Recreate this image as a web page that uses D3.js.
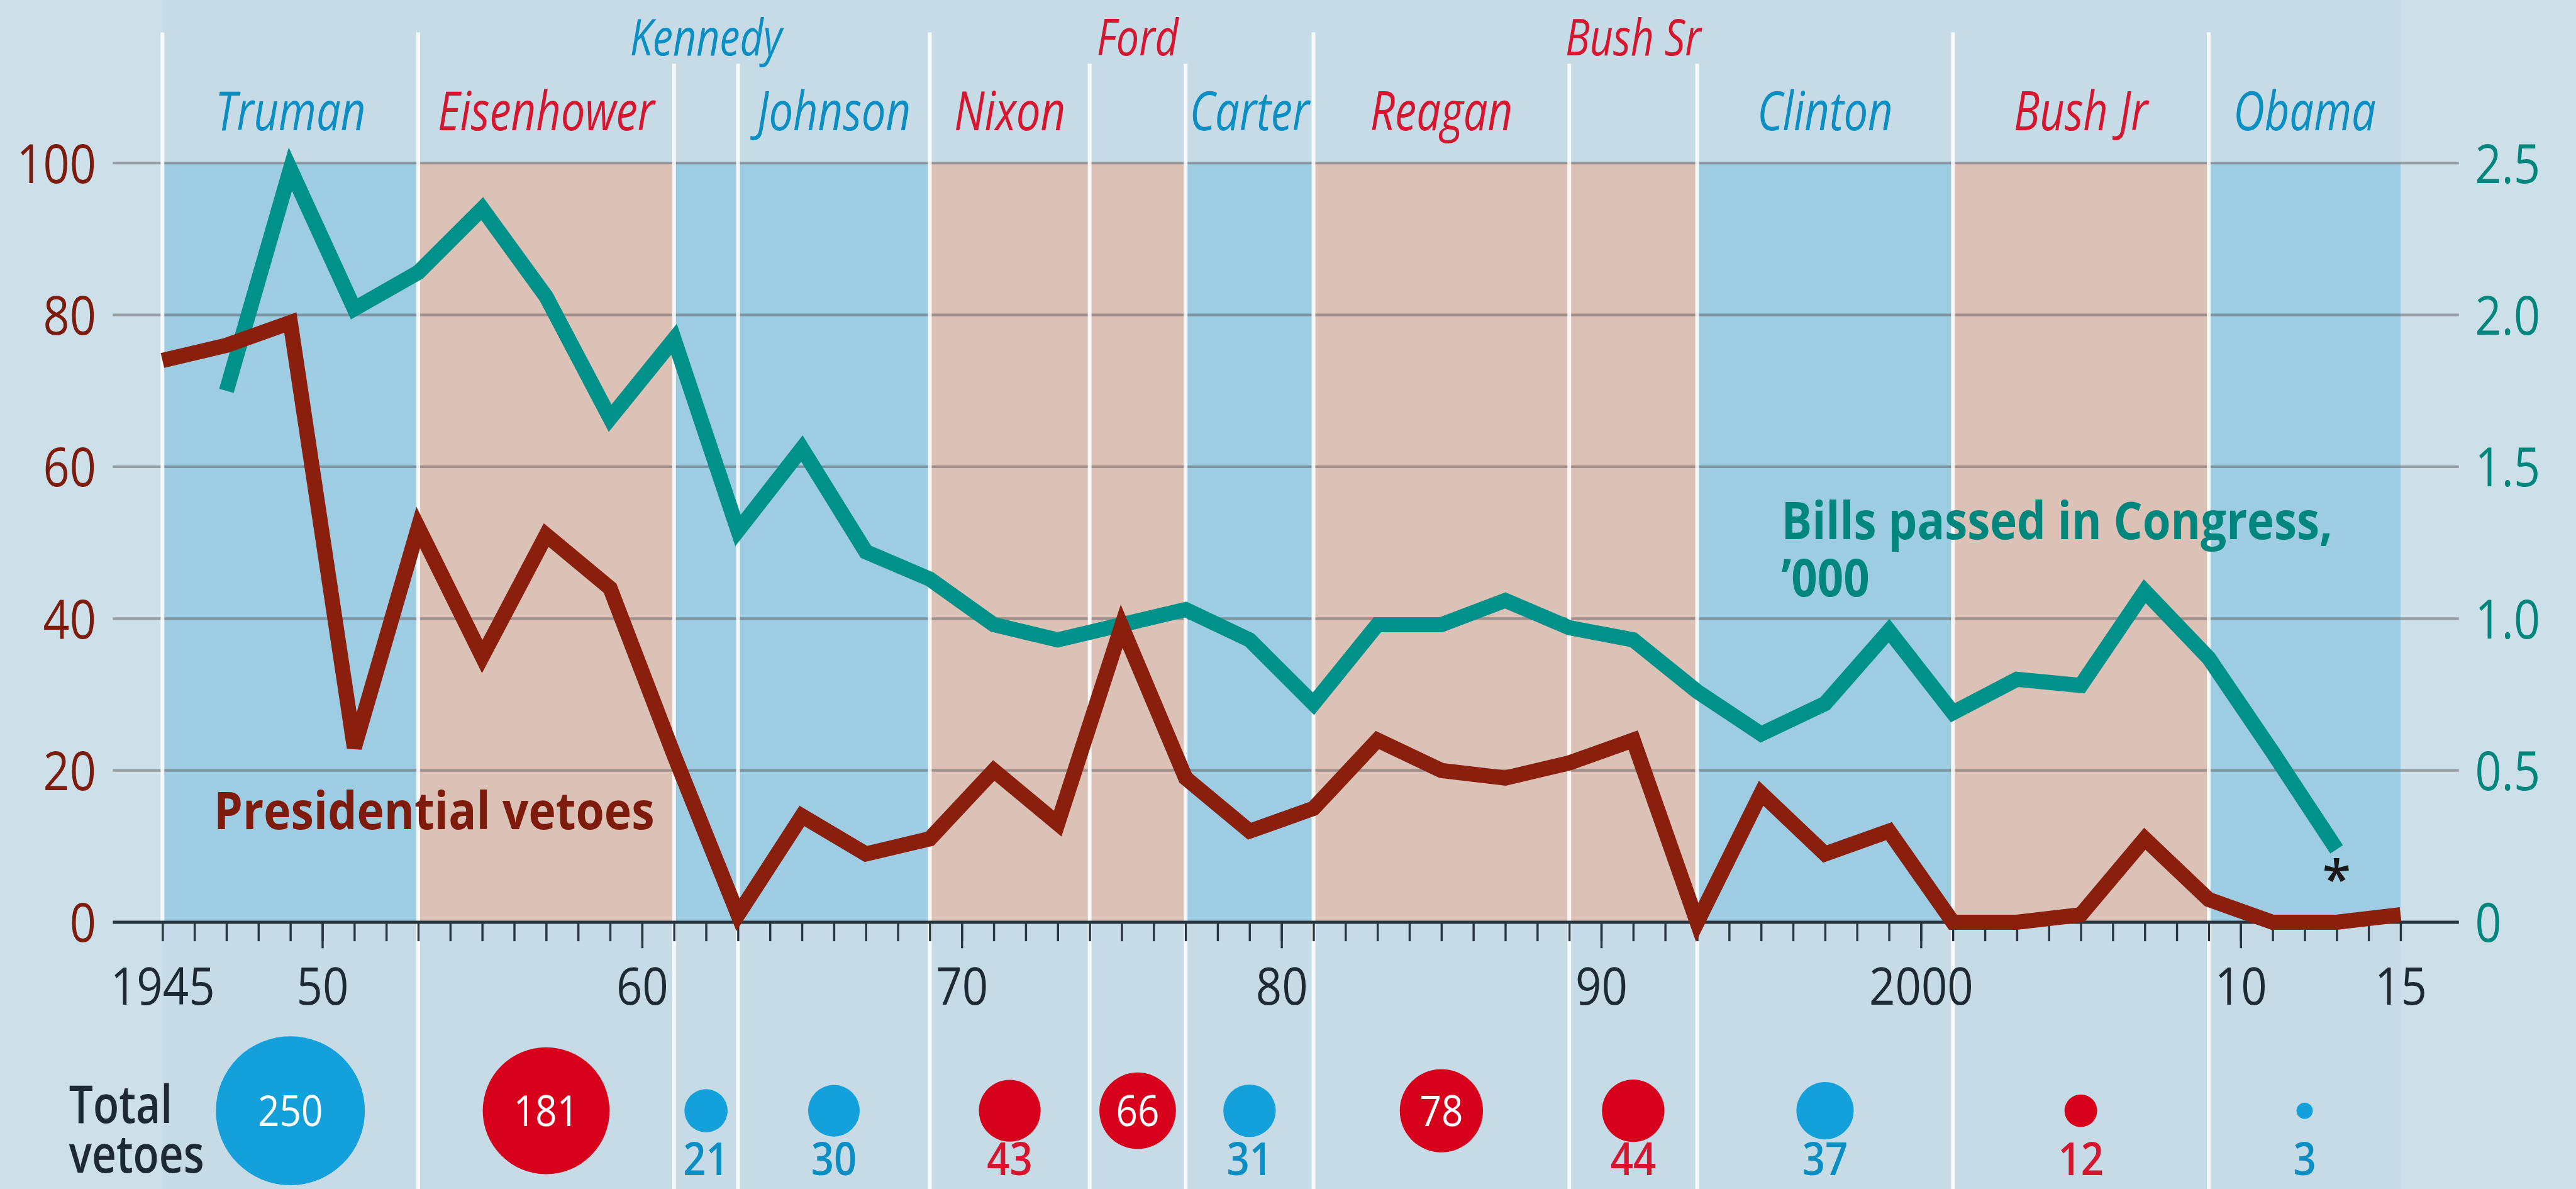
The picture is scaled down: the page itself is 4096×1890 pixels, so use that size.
<!DOCTYPE html>
<html>
<head>
<meta charset="utf-8">
<script src="https://cdn.jsdelivr.net/npm/d3@7"></script>
<style>
  html, body { margin: 0; padding: 0; background: #cddfe8; overflow: hidden; }
  svg { display: block; }
</style>
</head>
<body>
<svg id="chart" width="4096" height="1890"></svg>
<script>
// ---------------- data ----------------
const presidents   = ["Truman", "Eisenhower", "Kennedy", "Johnson", "Nixon", "Ford", "Carter", "Reagan", "Bush Sr", "Clinton", "Bush Jr", "Obama"];
const termStart    = [1945, 1953, 1961, 1963, 1969, 1974, 1977, 1981, 1989, 1993, 2001, 2009];
const termEnd      = [1953, 1961, 1963, 1969, 1974, 1977, 1981, 1989, 1993, 2001, 2009, 2015];
const party        = ["D", "R", "D", "D", "R", "R", "D", "R", "R", "D", "R", "D"];
const totalVetoes  = [250, 181, 21, 30, 43, 66, 31, 78, 44, 37, 12, 3];

// presidential vetoes per Congress
const vetoYears = [1945, 1947, 1949, 1951, 1953, 1955, 1957, 1959, 1961, 1963, 1965, 1967,
                   1969, 1971, 1973, 1975, 1977, 1979, 1981, 1983, 1985, 1987, 1989, 1991,
                   1993, 1995, 1997, 1999, 2001, 2003, 2005, 2007, 2009, 2011, 2013, 2015];
const vetoes    = [74, 76, 79, 23, 52, 35, 51, 44, 22, 1, 14, 9,
                   11, 20, 13, 39, 19, 12, 15, 24, 20, 19, 21, 24,
                   0, 17, 9, 12, 0, 0, 1, 11, 3, 0, 0, 1];

// bills passed in Congress, '000
const billYears = [1947, 1949, 1951, 1953, 1955, 1957, 1959, 1961, 1963, 1965, 1967, 1969,
                   1971, 1973, 1975, 1977, 1979, 1981, 1983, 1985, 1987, 1989, 1991, 1993,
                   1995, 1997, 1999, 2001, 2003, 2005, 2007, 2009, 2011, 2013];
const bills     = [1.75, 2.48, 2.02, 2.14, 2.35, 2.06, 1.66, 1.92, 1.29, 1.56, 1.22, 1.13,
                   0.98, 0.93, 0.98, 1.03, 0.93, 0.72, 0.98, 0.98, 1.06, 0.97, 0.93, 0.76,
                   0.62, 0.72, 0.96, 0.69, 0.80, 0.78, 1.09, 0.87, 0.56, 0.24];

const leftTicks    = [0, 20, 40, 60, 80, 100];
const rightTicks   = [0, 0.5, 1.0, 1.5, 2.0, 2.5];
const xLabelYears  = [1945, 1950, 1960, 1970, 1980, 1990, 2000, 2010, 2015];
const xLabels      = ["1945", "50", "60", "70", "80", "90", "2000", "10", "15"];
const majorYears   = [1950, 1960, 1970, 1980, 1990, 2000, 2010];

// ---------------- layout (drawn in a 4772 x 2202 frame, then scaled) ----------------
const W = 4772, H = 2202;
const S = 4096 / W;
const plot = { left: 209, right: 4555, top: 302, bottom: 1708 };
const upperRowNames = ["Kennedy", "Ford", "Bush Sr"];

const FONT = "'Open Sans', 'Noto Sans', 'DejaVu Sans', sans-serif";
const C = {
  page: "#cddfe8",
  panel: "#c6dbe5",
  demBand: "#9ecde3",
  repBand: "#dcc1b7",
  grid: "rgba(85,80,85,0.45)",
  axis: "#27353f",
  teal: "#00918a",
  tealText: "#00867d",
  veto: "#8a1f0e",
  vetoText: "#7d1b0c",
  demName: "#0b8ec3",
  repName: "#d6162e",
  demBubble: "#14a1db",
  repBubble: "#d7011b",
  dark: "#1d2a33"
};

const svg = d3.select("#chart");
const root = svg.append("g").attr("transform", `scale(${S})`);

const x  = d3.scaleLinear().domain([1945, 2015]).range([301, 4447]);
const yL = d3.scaleLinear().domain([0, 100]).range([plot.bottom, plot.top]);
const yR = d3.scaleLinear().domain([0, 2.5]).range([plot.bottom, plot.top]);
const rScale = d3.scaleSqrt().domain([0, 250]).range([0, 138]);

const terms = presidents.map((name, i) => ({
  name, start: termStart[i], end: termEnd[i], party: party[i], total: totalVetoes[i]
}));
const mid = d => (x(d.start) + x(d.end)) / 2;

// background and period panel
root.append("rect").attr("width", W).attr("height", H).attr("fill", C.page);
root.append("rect")
  .attr("x", x(1945)).attr("y", 0)
  .attr("width", x(2015) - x(1945)).attr("height", H)
  .attr("fill", C.panel);

// presidency bands
root.append("g").selectAll("rect").data(terms).join("rect")
  .attr("x", d => x(d.start))
  .attr("y", plot.top)
  .attr("width", d => x(d.end) - x(d.start))
  .attr("height", plot.bottom - plot.top)
  .attr("fill", d => d.party === "D" ? C.demBand : C.repBand);

// horizontal gridlines
root.append("g").selectAll("line").data(leftTicks.filter(v => v > 0)).join("line")
  .attr("x1", plot.left).attr("x2", plot.right)
  .attr("y1", d => yL(d)).attr("y2", d => yL(d))
  .attr("stroke", C.grid).attr("stroke-width", 5);

// white separators between presidencies
const sepTop = (i) => {
  const prev = terms[i - 1], cur = terms[i];
  const near = [prev, cur].some(t => t && upperRowNames.includes(t.name));
  return near ? 118 : 60;
};
root.append("g").selectAll("line").data(terms).join("line")
  .attr("x1", d => x(d.start)).attr("x2", d => x(d.start))
  .attr("y1", (d, i) => sepTop(i))
  .attr("y2", (d, i) => i === 0 ? plot.bottom : H)
  .attr("stroke", "#ffffff").attr("stroke-opacity", 0.85).attr("stroke-width", 7);

// x axis: minor ticks, major ticks, labels
const allYears = d3.range(1945, 2016);
const minorAxis = root.append("g").attr("transform", `translate(0,${plot.bottom})`)
  .call(d3.axisBottom(x).tickValues(allYears).tickSize(35).tickFormat(""));
const majorAxis = root.append("g").attr("transform", `translate(0,${plot.bottom})`)
  .call(d3.axisBottom(x).tickValues(majorYears).tickSize(48).tickFormat(""));
[minorAxis, majorAxis].forEach(g => {
  g.select(".domain").remove();
  g.selectAll(".tick line").attr("stroke", C.axis).attr("stroke-width", 4);
});
root.append("line")
  .attr("x1", plot.left).attr("x2", plot.right)
  .attr("y1", plot.bottom).attr("y2", plot.bottom)
  .attr("stroke", C.axis).attr("stroke-width", 6);

const labelAxis = root.append("g").attr("transform", `translate(0,${plot.bottom})`)
  .call(d3.axisBottom(x).tickValues(xLabelYears).tickSize(0)
        .tickFormat((d, i) => xLabels[i]));
labelAxis.attr("font-size", null).attr("font-family", null);
labelAxis.select(".domain").remove();
labelAxis.selectAll(".tick line").remove();
labelAxis.selectAll(".tick text")
  .attr("x", null).attr("y", null).attr("dy", null)
  .attr("text-anchor", "middle")
  .attr("transform", "translate(0,153) scale(0.88,1)")
  .attr("fill", C.dark)
  .style("font-family", FONT).style("font-size", "96px");

// left axis (vetoes)
const leftAxis = root.append("g").attr("transform", "translate(178,0)")
  .call(d3.axisLeft(yL).tickValues(leftTicks).tickSize(0));
leftAxis.attr("font-size", null).attr("font-family", null);
leftAxis.select(".domain").remove();
leftAxis.selectAll(".tick text")
  .attr("x", null).attr("dy", null)
  .attr("text-anchor", "end")
  .attr("transform", "translate(0,36) scale(0.85,1)")
  .attr("fill", C.vetoText)
  .style("font-family", FONT).style("font-size", "101px");

// right axis (bills)
const rightAxis = root.append("g").attr("transform", "translate(4585,0)")
  .call(d3.axisRight(yR).tickValues(rightTicks).tickSize(0)
        .tickFormat(d => d === 0 ? "0" : d3.format(".1f")(d)));
rightAxis.attr("font-size", null).attr("font-family", null);
rightAxis.select(".domain").remove();
rightAxis.selectAll(".tick text")
  .attr("x", null).attr("dy", null)
  .attr("text-anchor", "start")
  .attr("transform", "translate(0,36) scale(0.85,1)")
  .attr("fill", C.tealText)
  .style("font-family", FONT).style("font-size", "101px");

// data lines
const billPts = billYears.map((yr, i) => ({ yr, v: bills[i] }));
const vetoPts = vetoYears.map((yr, i) => ({ yr, v: vetoes[i] }));

root.append("path").datum(billPts)
  .attr("d", d3.line().x(d => x(d.yr)).y(d => yR(d.v)))
  .attr("fill", "none").attr("stroke", C.teal).attr("stroke-width", 28)
  .attr("stroke-linejoin", "miter").attr("stroke-miterlimit", 3);

root.append("path").datum(vetoPts)
  .attr("d", d3.line().x(d => x(d.yr)).y(d => yL(d.v)))
  .attr("fill", "none").attr("stroke", C.veto).attr("stroke-width", 28)
  .attr("stroke-linejoin", "miter").attr("stroke-miterlimit", 3);

// series labels
const textAt = (g, str, px, py, sx) => g.append("text")
  .attr("transform", `translate(${px},${py}) scale(${sx},1)`)
  .style("font-family", FONT).text(str);

textAt(root, "Presidential vetoes", 396, 1536, 0.88)
  .attr("fill", C.vetoText).style("font-weight", 700).style("font-size", "97px");

// two-line label for the bills series
const billsLabel = root.append("text")
  .attr("transform", "translate(3300,998) scale(0.88,1)")
  .attr("fill", C.tealText)
  .style("font-family", FONT).style("font-weight", 700).style("font-size", "96px");
billsLabel.append("tspan").attr("x", 0).attr("y", 0).text("Bills passed in Congress,");
billsLabel.append("tspan").attr("x", 0).attr("y", 107).text("\u2019000");

// footnote marker on the last bills point
const lastBill = billPts[billPts.length - 1];
root.append("text")
  .attr("x", x(lastBill.yr)).attr("y", yR(lastBill.v) + 90)
  .attr("text-anchor", "middle")
  .attr("fill", "#1a1a1a")
  .style("font-family", FONT).style("font-size", "96px").style("font-weight", 600)
  .text("*");

// president names
root.append("g").selectAll("text").data(terms).join("text")
  .attr("transform", d => `translate(${mid(d)},${upperRowNames.includes(d.name) ? 103 : 241}) scale(0.8,1)`)
  .attr("text-anchor", "middle")
  .attr("fill", d => d.party === "D" ? C.demName : C.repName)
  .style("font-family", FONT).style("font-style", "italic")
  .style("font-size", d => upperRowNames.includes(d.name) ? "94px" : "100px")
  .text(d => d.name);

// total vetoes bubbles
const bubbleY = 2057;
const bubbles = root.append("g");
bubbles.selectAll("circle").data(terms).join("circle")
  .attr("cx", d => mid(d)).attr("cy", bubbleY)
  .attr("r", d => rScale(d.total))
  .attr("fill", d => d.party === "D" ? C.demBubble : C.repBubble);

bubbles.selectAll("text").data(terms).join("text")
  .attr("transform", d => d.total >= 60
      ? `translate(${mid(d)},${bubbleY + 28}) scale(0.9,1)`
      : `translate(${mid(d)},2176) scale(0.88,1)`)
  .attr("text-anchor", "middle")
  .attr("fill", d => d.total >= 60 ? "#ffffff" : (d.party === "D" ? C.demName : C.repName))
  .style("font-family", FONT)
  .style("font-size", d => d.total >= 60 ? "78px" : "84px")
  .style("font-weight", d => d.total >= 60 ? 400 : 600)
  .text(d => d.total);

// row label for the bubbles
const totalLabel = root.append("text")
  .attr("transform", "translate(128,2080) scale(0.82,1)")
  .attr("fill", C.dark)
  .style("font-family", FONT).style("font-size", "96px").style("font-weight", 600);
totalLabel.append("tspan").attr("x", 0).attr("y", 0).text("Total");
totalLabel.append("tspan").attr("x", 0).attr("y", 92).text("vetoes");
</script>
</body>
</html>
